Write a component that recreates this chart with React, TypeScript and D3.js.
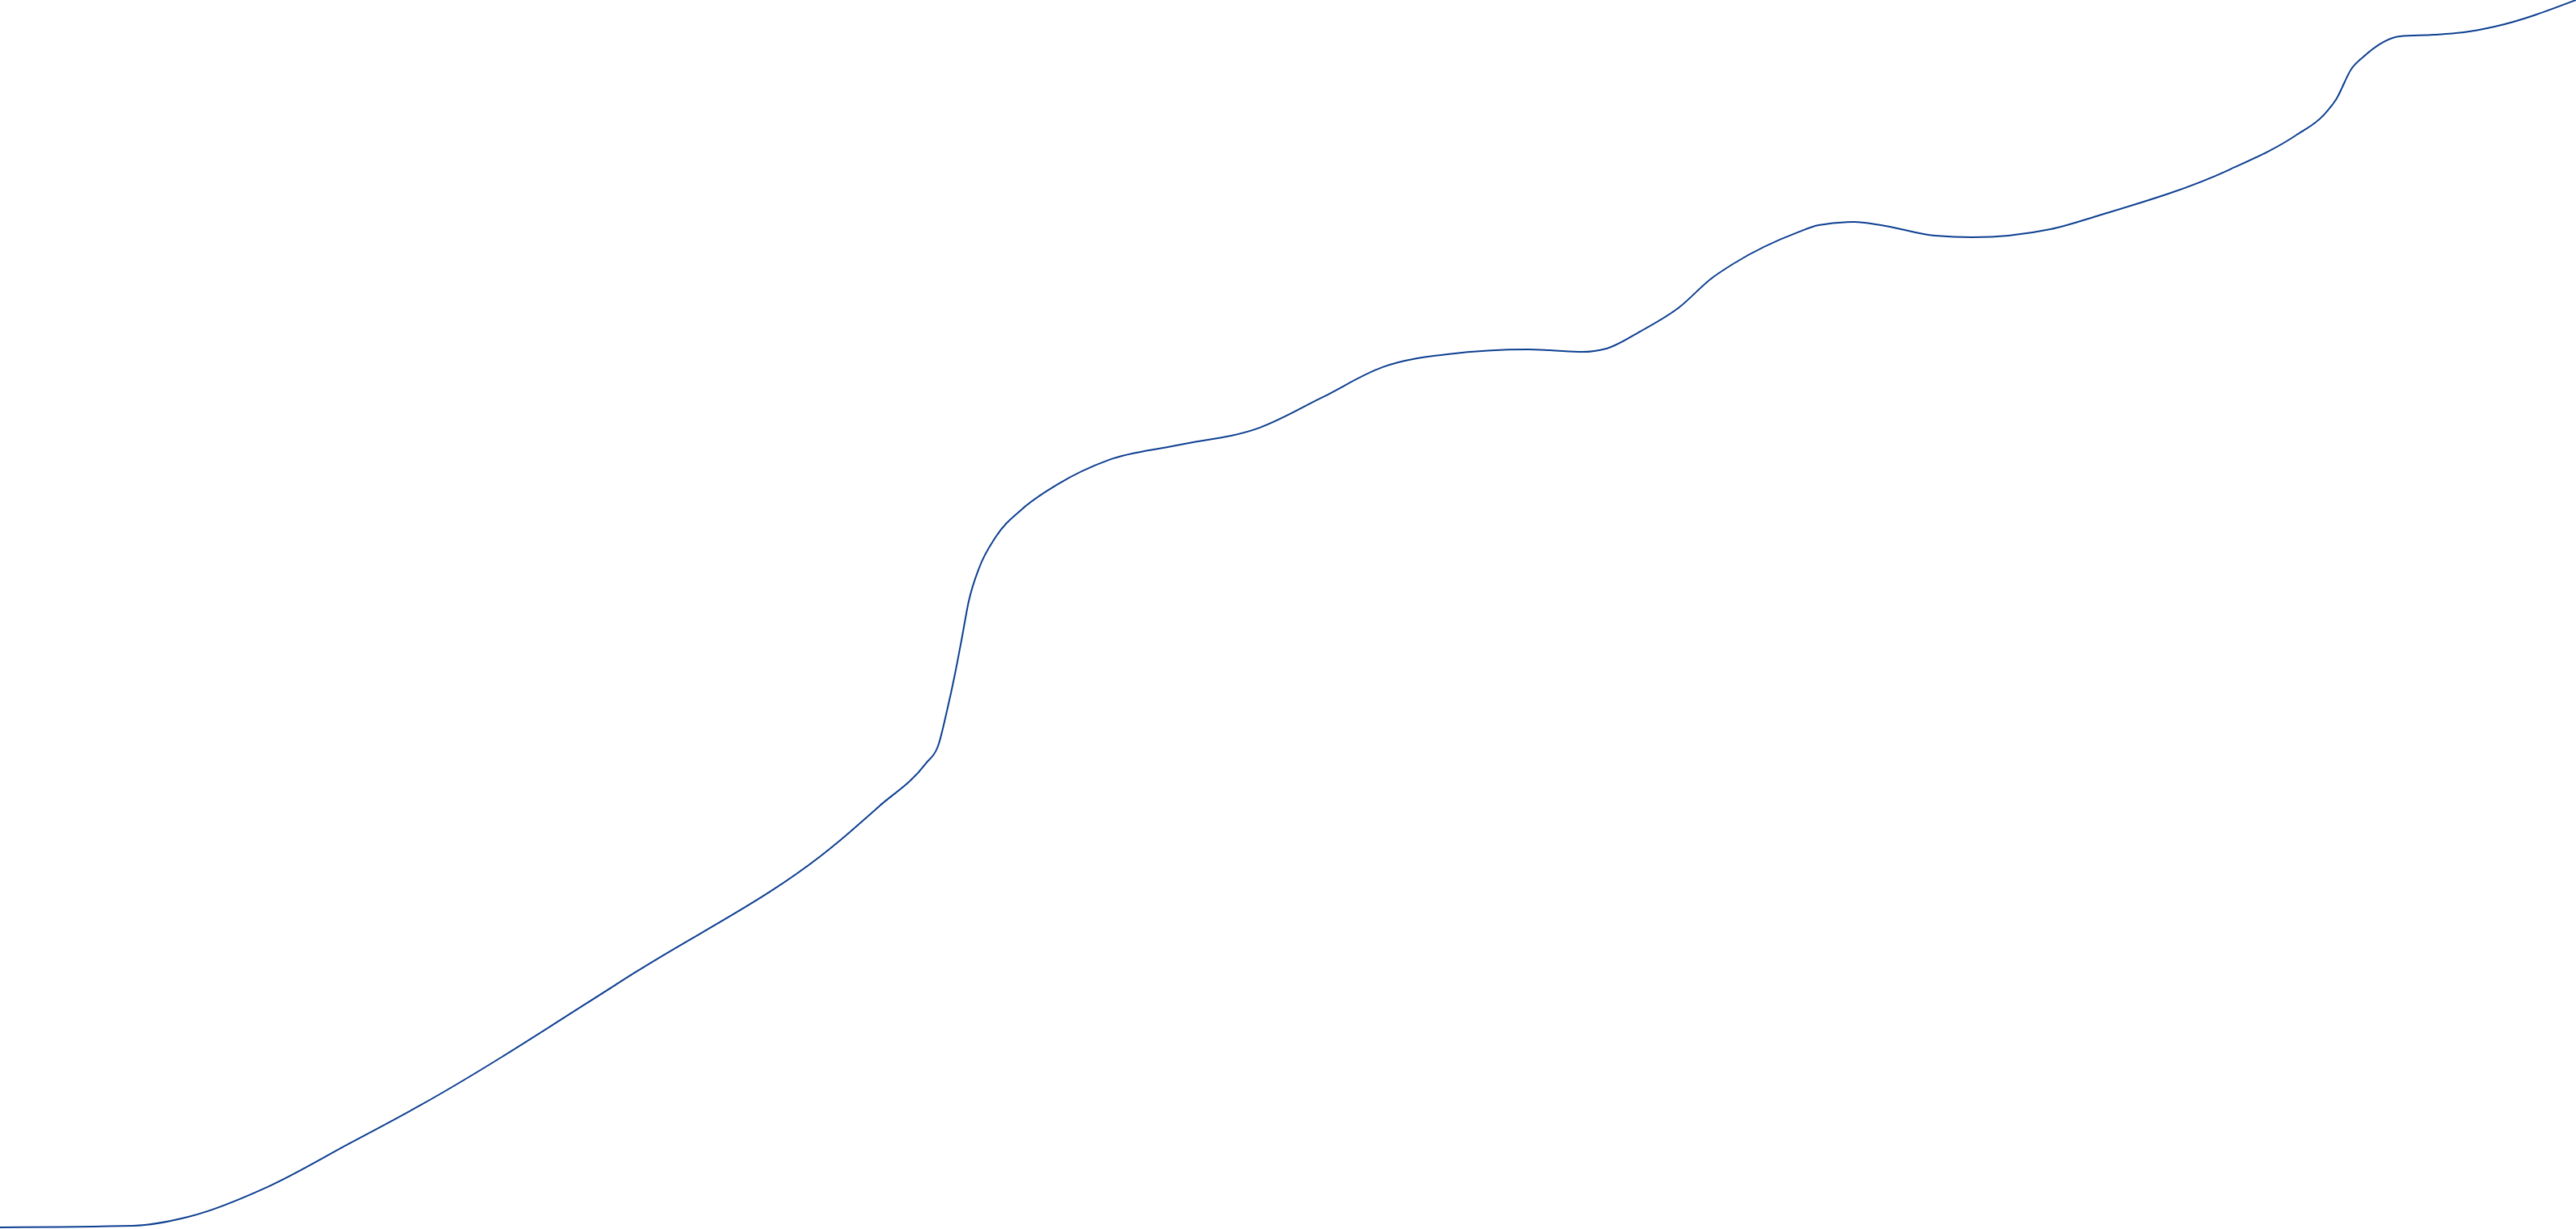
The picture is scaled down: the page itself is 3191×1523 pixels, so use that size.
import * as d3 from 'd3';

const WIDTH = 3191;
const HEIGHT = 1523;

// progress (x, % of period) vs cumulative value (y, % of max)
const xValues = [
    0, 5.17, 7.3, 10.44, 13.57, 16.3, 24.66, 32.59, 34.1, 35.94,
    36.42, 36.76, 37.08, 37.35, 37.6, 38.02, 38.64, 39.71, 41.06, 43.03,
    45.66, 48.89, 51.3, 53.68, 56.19, 59.32, 60.17, 61.42, 62.36, 63.71,
    65.18, 66.44, 67.28, 69.79, 70.6, 71.98, 73.02, 75.12, 76.56, 79.6,
    81.48, 86.56, 89.16, 90.22, 90.69, 91.29, 91.76, 93.17, 94.48, 95.64,
    96.84, 100,
];
const yValues = [
    0, 0.13, 0.85, 3.35, 6.84, 9.93, 20.78, 31.49, 34.26, 37.8,
    39.25, 42.08, 45.17, 48.13, 50.95, 53.78, 56.21, 58.58, 60.55, 62.52,
    63.71, 65.15, 67.59, 70.09, 71.14, 71.53, 71.47, 71.33, 71.6, 73.04,
    74.95, 77.32, 78.5, 81.07, 81.66, 81.92, 81.66, 80.8, 80.67, 81.33,
    82.45, 86.19, 89.02, 90.66, 91.91, 94.41, 95.4, 97.04, 97.17, 97.37,
    97.83, 100,
];

const LINE_COLOR = '#0d3f91';

const App = () => {
    const points = xValues.map((x, i) => ({ x, y: yValues[i] }));

    const xScale = d3.scaleLinear().domain([0, 100]).range([0, WIDTH]);
    const yScale = d3.scaleLinear().domain([0, 100]).range([HEIGHT - 2, 0]);

    const line = d3.line<{ x: number; y: number }>()
        .x((d) => xScale(d.x))
        .y((d) => yScale(d.y))
        .curve(d3.curveMonotoneX);

    return (
        <svg
            width={WIDTH}
            height={HEIGHT}
            style={{ position: 'fixed', top: 0, left: 0, background: '#fff' }}
        >
            <path d={line(points) || ''} fill="none" stroke={LINE_COLOR} strokeWidth={2} />
        </svg>
    );
};

export default App;
